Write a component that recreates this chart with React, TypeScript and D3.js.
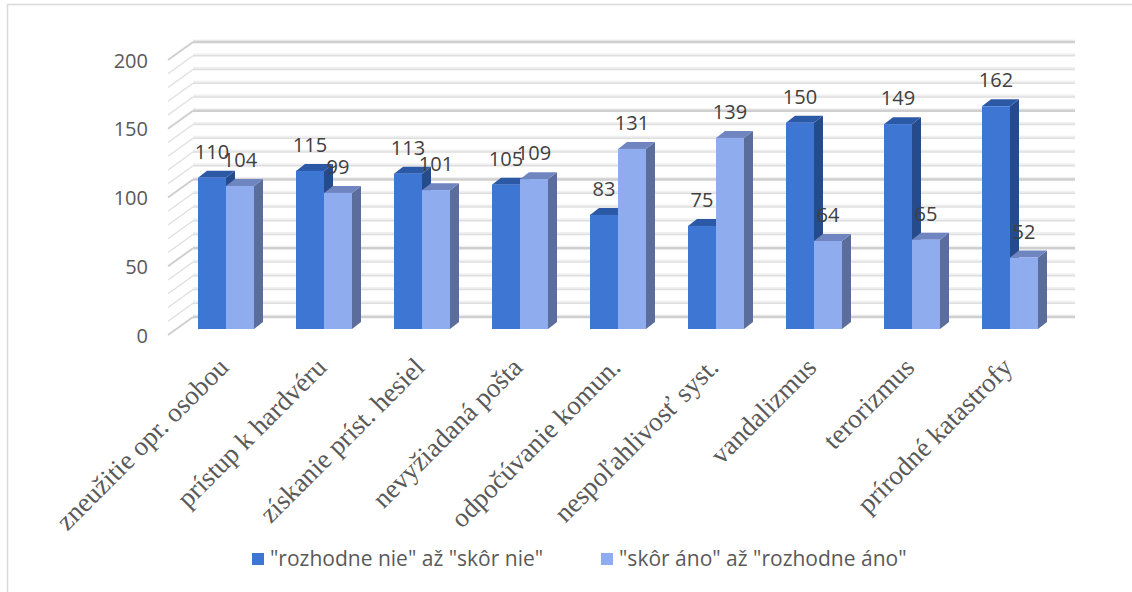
import React from "react";
import * as d3 from "d3";

const categories = [
  "zneužitie opr. osobou",
  "prístup k hardvéru",
  "získanie príst. hesiel",
  "nevyžiadaná pošta",
  "odpočúvanie komun.",
  "nespoľahlivosť syst.",
  "vandalizmus",
  "terorizmus",
  "prírodné katastrofy",
];
const seriesNames = ['"rozhodne nie" až "skôr nie"', '"skôr áno" až "rozhodne áno"'];
const seriesNo = [110, 115, 113, 105, 83, 75, 150, 149, 162];
const seriesYes = [104, 99, 101, 109, 131, 139, 64, 65, 52];
const yTicks = [0, 50, 100, 150, 200];
const minorTicks = d3.range(0, 201, 10);

const W = 1132;
const H = 592;

// 3D geometry
const frontLeft = 168;
const frontRight = 1050;
const frontFloor = 335;
const depthX = 25;
const depthY = -18;
const barPlaneX = 9;
const barPlaneY = -6;
const barDepthX = 9;
const barDepthY = -7;

const palette = [
  { front: "#3d76d3", top: "#2c59a6", side: "#264b8c" },
  { front: "#8eacee", top: "#6e85c0", side: "#5b6d9b" },
];

export default function App() {
  const x = d3.scaleBand<string>().domain(categories).range([frontLeft, frontRight]).paddingInner(0);
  const groupW = 56;
  const xs = d3.scaleBand<number>().domain([0, 1]).range([0, groupW]);
  const h = d3.scaleLinear().domain([0, 200]).range([0, 275]);

  const backFloor = frontFloor + depthY;
  const barFloor = frontFloor + barPlaneY;
  const values = [seriesNo, seriesYes];

  const gridLines = minorTicks.map((v) => {
    const major = v % 50 === 0;
    const yb = backFloor - h(v);
    const yf = frontFloor - h(v);
    return (
      <g key={"g" + v}>
        <line x1={frontLeft + depthX} x2={frontRight + depthX} y1={yb - 1.5} y2={yb - 1.5} stroke="#f0f0f0" strokeWidth={2} />
        <line x1={frontLeft + depthX} x2={frontRight + depthX} y1={yb} y2={yb} stroke={major ? "#cfcfcf" : "#dedede"} strokeWidth={major ? 2.5 : 1.5} />
        <line x1={frontLeft} x2={frontLeft + depthX} y1={yf} y2={yb} stroke={major ? "#cfcfcf" : "#e0e0e0"} strokeWidth={major ? 2 : 1.5} />
      </g>
    );
  });

  const bars: React.ReactNode[] = [];
  const labels: React.ReactNode[] = [];
  categories.forEach((c, i) => {
    const cx = (x(c) as number) + x.bandwidth() / 2 + barPlaneX;
    [0, 1].forEach((s) => {
      const v = values[s][i];
      const x0 = cx - groupW / 2 + (xs(s) as number);
      const bw = xs.bandwidth();
      const top = barFloor - h(v);
      const col = palette[s];
      bars.push(
        <g key={`b${i}-${s}`}>
          <polygon
            points={`${x0 + bw},${top} ${x0 + bw + barDepthX},${top + barDepthY} ${x0 + bw + barDepthX},${barFloor + barDepthY} ${x0 + bw},${barFloor}`}
            fill={col.side}
          />
          <polygon
            points={`${x0},${top} ${x0 + barDepthX},${top + barDepthY} ${x0 + bw + barDepthX},${top + barDepthY} ${x0 + bw},${top}`}
            fill={col.top}
          />
          <rect x={x0} y={top} width={bw} height={barFloor - top} fill={col.front} />
        </g>
      );
      labels.push(
        <text key={`l${i}-${s}`} x={x0 + bw / 2} y={top - 19} textAnchor="middle" fontSize={20} fill="#404040" fontFamily="'Open Sans', sans-serif">
          {v}
        </text>
      );
    });
  });

  return (
    <svg width={W} height={H} style={{ position: "absolute", left: 0, top: 0, background: "#fff" }}>
      <rect x={7.5} y={4.5} width={W + 20} height={H + 20} fill="#fff" stroke="#d9d9d9" strokeWidth={1.5} />
      {gridLines}
      {yTicks.map((t) => (
        <text key={"t" + t} x={148} y={frontFloor - h(t)} textAnchor="end" dominantBaseline="central" fontSize={20} fill="#595959" fontFamily="'Open Sans', sans-serif">
          {t}
        </text>
      ))}
      {bars}
      {labels}
      {categories.map((c) => {
        const cx = (x(c) as number) + x.bandwidth() / 2;
        return (
          <text key={"c" + c} transform={`translate(${cx + 13},${369}) rotate(-45)`} textAnchor="end" fontSize={27} fill="#595959" fontFamily="'Liberation Serif', 'Times New Roman', serif">
            {c}
          </text>
        );
      })}
      {seriesNames.map((n, i) => {
        const lx = i === 0 ? 252 : 601;
        return (
          <g key={"lg" + i}>
            <rect x={lx} y={553} width={12} height={12} fill={palette[i].front} />
            <text x={lx + 18} y={566} fontSize={21} fill="#595959" fontFamily="'Open Sans', sans-serif">
              {n}
            </text>
          </g>
        );
      })}
    </svg>
  );
}
